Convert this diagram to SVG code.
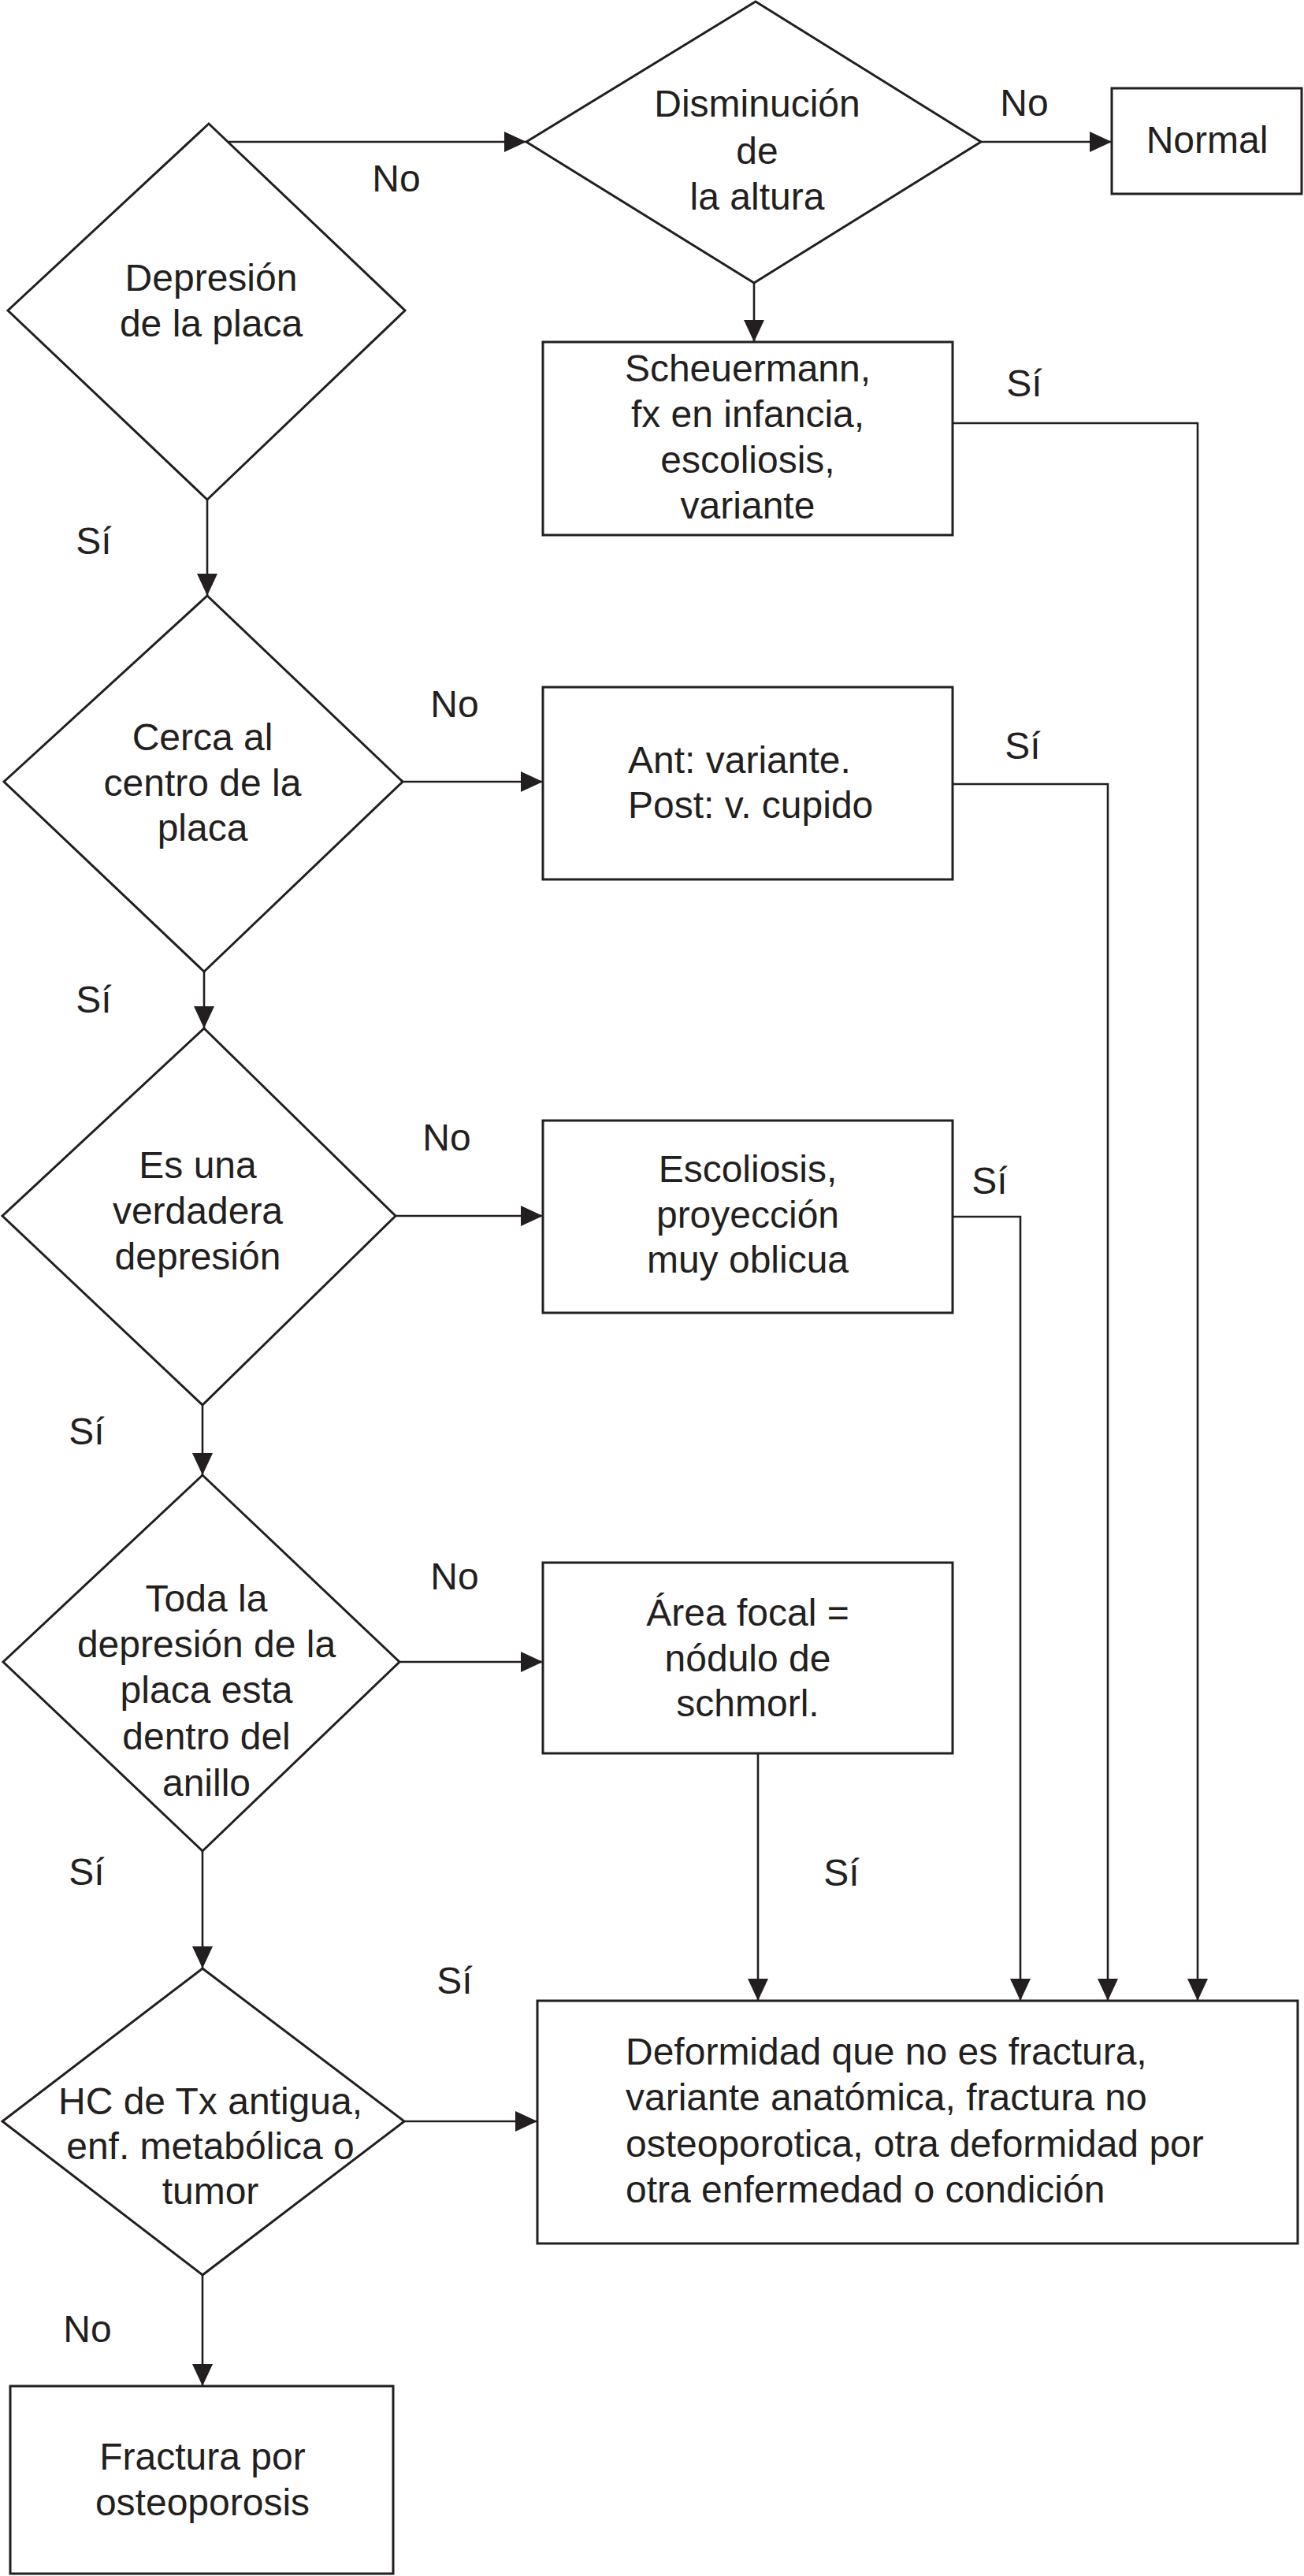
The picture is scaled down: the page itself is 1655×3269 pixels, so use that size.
<svg xmlns="http://www.w3.org/2000/svg" width="1655" height="3269" viewBox="0 0 1655 3269">
  <style>
    .shape { fill: #ffffff; stroke: #231f20; stroke-width: 3; }
    .conn { fill: none; stroke: #231f20; stroke-width: 2.6; }
    .t { font-family: "Liberation Sans", Arial, Helvetica, sans-serif; font-size: 48px; fill: #231f20; }
    .c { text-anchor: middle; }
  </style>
  <defs>
    <marker id="arrow" markerUnits="userSpaceOnUse" markerWidth="30" markerHeight="28" refX="28" refY="13" orient="auto">
      <path d="M0,0 L28,13 L0,26 z" fill="#231f20"/>
    </marker>
  </defs>
  <rect x="0" y="0" width="1655" height="3269" fill="#ffffff"/>

  <g id="connectors">
    <line class="conn" x1="290" y1="180" x2="668" y2="180" marker-end="url(#arrow)"/>
    <line class="conn" x1="1245" y1="180" x2="1411" y2="180" marker-end="url(#arrow)"/>
    <line class="conn" x1="957" y1="359" x2="957" y2="434" marker-end="url(#arrow)"/>
    <polyline class="conn" points="1209,537 1520,537 1520,2539" marker-end="url(#arrow)"/>
    <line class="conn" x1="263" y1="634" x2="263" y2="756" marker-end="url(#arrow)"/>
    <line class="conn" x1="511" y1="992" x2="689" y2="992" marker-end="url(#arrow)"/>
    <polyline class="conn" points="1209,995 1406,995 1406,2539" marker-end="url(#arrow)"/>
    <line class="conn" x1="259" y1="1233" x2="259" y2="1305" marker-end="url(#arrow)"/>
    <line class="conn" x1="500" y1="1543" x2="689" y2="1543" marker-end="url(#arrow)"/>
    <polyline class="conn" points="1209,1544 1295,1544 1295,2539" marker-end="url(#arrow)"/>
    <line class="conn" x1="257" y1="1783" x2="257" y2="1872" marker-end="url(#arrow)"/>
    <line class="conn" x1="507" y1="2109" x2="689" y2="2109" marker-end="url(#arrow)"/>
    <line class="conn" x1="962" y1="2225" x2="962" y2="2539" marker-end="url(#arrow)"/>
    <line class="conn" x1="257" y1="2349" x2="257" y2="2498" marker-end="url(#arrow)"/>
    <line class="conn" x1="513" y1="2692" x2="682" y2="2692" marker-end="url(#arrow)"/>
    <line class="conn" x1="257" y1="2887" x2="257" y2="3028" marker-end="url(#arrow)"/>
    <g id="labels">
      <text class="t c" x="503" y="243">No</text>
      <text class="t c" x="1300" y="147">No</text>
      <text class="t c" x="1300" y="503">Sí</text>
      <text class="t c" x="119" y="703">Sí</text>
      <text class="t c" x="577" y="910">No</text>
      <text class="t c" x="1298" y="963">Sí</text>
      <text class="t c" x="119" y="1285">Sí</text>
      <text class="t c" x="567" y="1460">No</text>
      <text class="t c" x="1256" y="1515">Sí</text>
      <text class="t c" x="110" y="1833">Sí</text>
      <text class="t c" x="577" y="2017">No</text>
      <text class="t c" x="110" y="2392">Sí</text>
      <text class="t c" x="1068" y="2393">Sí</text>
      <text class="t c" x="577" y="2530">Sí</text>
      <text class="t c" x="111" y="2972">No</text>
    </g>
  </g>

  <g id="d1">
    <polygon class="shape" points="265,157 514,394 263,634 10,394"/>
    <text class="t c"><tspan x="268" y="369">Depresión</tspan><tspan x="268" y="427">de la placa</tspan></text>
  </g>

  <g id="d2">
    <polygon class="shape" points="959,2 1245,180 957,359 668,180"/>
    <text class="t c"><tspan x="961" y="148">Disminución</tspan><tspan x="961" y="208">de</tspan><tspan x="961" y="266">la altura</tspan></text>
  </g>

  <g id="normal">
    <rect class="shape" x="1411" y="112" width="241" height="134"/>
    <text class="t c" x="1532" y="194">Normal</text>
  </g>

  <g id="scheuermann">
    <rect class="shape" x="689" y="434" width="520" height="245"/>
    <text class="t c"><tspan x="949" y="484">Scheuermann,</tspan><tspan x="949" y="542">fx en infancia,</tspan><tspan x="949" y="600">escoliosis,</tspan><tspan x="949" y="658">variante</tspan></text>
  </g>

  <g id="d3">
    <polygon class="shape" points="263,756 511,992 259,1233 5,992"/>
    <text class="t c"><tspan x="257" y="952">Cerca al</tspan><tspan x="257" y="1010">centro de la</tspan><tspan x="257" y="1067">placa</tspan></text>
  </g>

  <g id="ant">
    <rect class="shape" x="689" y="872" width="520" height="244"/>
    <text class="t"><tspan x="797" y="981">Ant: variante.</tspan><tspan x="797" y="1038">Post: v. cupido</tspan></text>
  </g>

  <g id="d4">
    <polygon class="shape" points="259,1305 502,1543 257,1783 3,1543"/>
    <text class="t c"><tspan x="251" y="1495">Es una</tspan><tspan x="251" y="1553">verdadera</tspan><tspan x="251" y="1611">depresión</tspan></text>
  </g>

  <g id="escoliosis">
    <rect class="shape" x="689" y="1422" width="520" height="244"/>
    <text class="t c"><tspan x="949" y="1500">Escoliosis,</tspan><tspan x="949" y="1558">proyección</tspan><tspan x="949" y="1615">muy oblicua</tspan></text>
  </g>

  <g id="d5">
    <polygon class="shape" points="257,1872 507,2109 257,2349 4,2109"/>
    <text class="t c"><tspan x="262" y="2045">Toda la</tspan><tspan x="262" y="2103">depresión de la</tspan><tspan x="262" y="2161">placa esta</tspan><tspan x="262" y="2220">dentro del</tspan><tspan x="262" y="2279">anillo</tspan></text>
  </g>

  <g id="area-focal">
    <rect class="shape" x="689" y="1983" width="520" height="242"/>
    <text class="t c"><tspan x="949" y="2063">Área focal =</tspan><tspan x="949" y="2121">nódulo de</tspan><tspan x="949" y="2178">schmorl.</tspan></text>
  </g>

  <g id="d6">
    <polygon class="shape" points="257,2498 513,2692 257,2887 3,2692"/>
    <text class="t c"><tspan x="267" y="2683">HC de Tx antigua,</tspan><tspan x="267" y="2740">enf. metabólica o</tspan><tspan x="267" y="2797">tumor</tspan></text>
  </g>

  <g id="deformidad">
    <rect class="shape" x="682" y="2539" width="965" height="308"/>
    <text class="t"><tspan x="794" y="2620">Deformidad que no es fractura,</tspan><tspan x="794" y="2678">variante anatómica, fractura no</tspan><tspan x="794" y="2737">osteoporotica, otra deformidad por</tspan><tspan x="794" y="2795">otra enfermedad o condición</tspan></text>
  </g>

  <g id="fractura">
    <rect class="shape" x="13" y="3028" width="486" height="238"/>
    <text class="t c"><tspan x="257" y="3134">Fractura por</tspan><tspan x="257" y="3192">osteoporosis</tspan></text>
  </g>
</svg>
